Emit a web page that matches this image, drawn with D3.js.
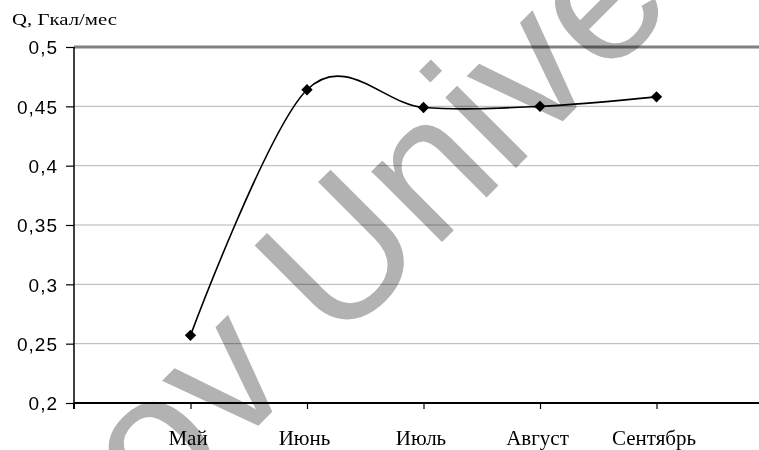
<!DOCTYPE html>
<html>
<head>
<meta charset="utf-8">
<script src="https://cdn.jsdelivr.net/npm/d3@7"></script>
<style>
  body { margin: 0; background: #fff; }
  svg { display: block; }
</style>
</head>
<body>
<div id="result"></div>
<script>
const months = ["Май", "Июнь", "Июль", "Август", "Сентябрь"];
const heat = [0.257, 0.464, 0.449, 0.450, 0.458];
const yTicks = [0.2, 0.25, 0.3, 0.35, 0.4, 0.45, 0.5];
const yTickLabels = ["0,2", "0,25", "0,3", "0,35", "0,4", "0,45", "0,5"];
const yTitle = "Q, Гкал/мес";
const watermark = "ov Unive";

const width = 759, height = 450;
const plotLeft = 74, plotTop = 47, plotBottom = 403;

const svg = d3.select("#result")
    .append("svg")
    .attr("width", width)
    .attr("height", height);

const x = d3.scalePoint()
    .domain(months)
    .range([plotLeft, plotLeft + 116.5 * 6])
    .padding(1);

const y = d3.scaleLinear()
    .domain([0.2, 0.5])
    .range([plotBottom, plotTop]);

// grid
svg.append("g")
    .selectAll("line")
    .data(yTicks.slice(1))
    .join("line")
    .attr("x1", plotLeft)
    .attr("x2", width)
    .attr("y1", d => y(d))
    .attr("y2", d => y(d))
    .attr("stroke", d => d == 0.5 ? "#808080" : "#b4b4b4")
    .attr("stroke-width", d => d == 0.5 ? 3 : 1);

// y axis
const yAxis = svg.append("g")
    .attr("transform", "translate(" + plotLeft + ",0)")
    .call(d3.axisLeft(y).tickValues(yTicks).tickSize(8).tickFormat((d, i) => yTickLabels[i]));
yAxis.select(".domain").attr("stroke", "#000").attr("stroke-width", 1.5).attr("d", "M0," + plotTop + "V" + plotBottom);
yAxis.selectAll(".tick line").attr("stroke", "#000").attr("stroke-width", 1.2);
yAxis.selectAll(".tick text")
    .attr("x", -16)
    .attr("dy", "0.36em")
    .attr("fill", "#000")
    .style("font-family", "'Liberation Sans', Arial, sans-serif")
    .style("font-size", "19px")
    .style("letter-spacing", "1px");

// x axis
const xAxis = svg.append("g")
    .attr("transform", "translate(0," + plotBottom + ")")
    .call(d3.axisBottom(x).tickSize(6).tickPadding(21));
xAxis.select(".domain").attr("stroke", "#000").attr("stroke-width", 2).attr("d", "M" + plotLeft + ",0V6M" + plotLeft + ",0H" + width);
xAxis.selectAll(".tick line").attr("stroke", "#000").attr("stroke-width", 1.2);
xAxis.selectAll(".tick text")
    .attr("x", -3)
    .attr("fill", "#000")
    .style("font-family", "'Liberation Serif', 'Times New Roman', serif")
    .style("font-size", "21px");

// title
svg.append("text")
    .attr("x", 12)
    .attr("y", 25)
    .attr("textLength", 105)
    .attr("lengthAdjust", "spacingAndGlyphs")
    .style("font-family", "'Liberation Serif', 'Times New Roman', serif")
    .style("font-size", "17px")
    .text(yTitle);

// line
const pts = months.map((m, i) => [x(m), y(heat[i])]);
svg.append("path")
    .datum(pts)
    .attr("fill", "none")
    .attr("stroke", "#000")
    .attr("stroke-width", 1.6)
    .attr("d", d3.line().curve(d3.curveCardinal.tension(0)));

svg.append("g")
    .selectAll("path")
    .data(pts)
    .join("path")
    .attr("transform", d => "translate(" + d[0] + "," + d[1] + ") rotate(45)")
    .attr("d", d3.symbol(d3.symbolSquare, 64))
    .attr("fill", "#000");

// watermark
svg.append("text")
    .attr("transform", "translate(158,526) rotate(-45)")
    .style("font-family", "'Liberation Sans', Arial, sans-serif")
    .style("font-size", "189px")
    .style("mix-blend-mode", "multiply")
    .attr("fill", "#b2b2b2")
    .text(watermark);
</script>
</body>
</html>
